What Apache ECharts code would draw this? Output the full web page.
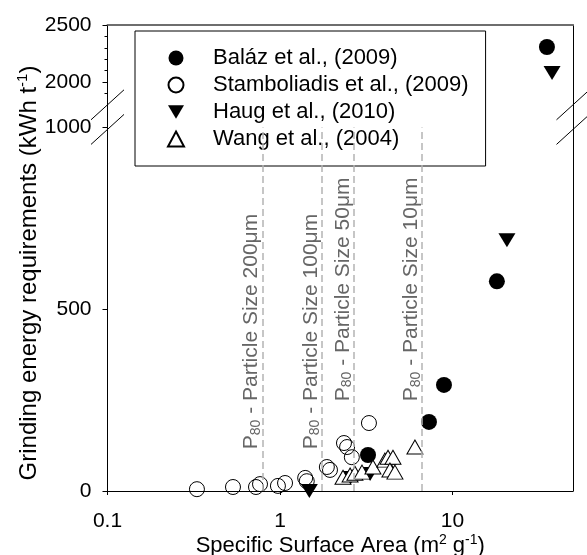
<!DOCTYPE html>
<html><head><meta charset="utf-8">
<script src="https://cdn.jsdelivr.net/npm/echarts@6/dist/echarts.min.js"></script>
<style>html,body{margin:0;padding:0;background:#fff}#c{width:587px;height:555px}</style>
</head><body><div id="c"></div>
<script>
// ---------- data ----------
const xTicks = [0.1, 1, 10];
const yLowTicks = [0, 500, 1000];
const yHighLabels = [2000, 2500];
const yHighMinor = [1900, 2100, 2200, 2300, 2400];

const balazX = [3.24, 7.31, 8.93, 18.1, 35.3];
const balazY = [99, 190, 292, 577, 2307];
const stambX = [0.33, 0.534, 0.726, 0.766, 0.973, 1.07, 1.40, 1.43, 1.87, 1.95, 2.35, 2.45, 2.61, 3.28];
const stambY = [5, 11, 11, 19, 14, 22, 36, 27, 66, 58, 132, 121, 93, 187];
const haugX = [1.48, 2.55, 3.33, 20.7, 37.8];
const haugY = [0, 36, 47, 690, 2079];
const wangX = [2.32, 2.55, 2.72, 2.99, 3.46, 4.06, 4.23, 4.52, 4.34, 4.64, 6.06];
const wangY = [38, 44, 49, 52, 66, 85, 93, 93, 58, 52, 121];
const particleSSA = [0.787, 1.74, 2.67, 6.65];
const particleSize = ['200', '100', '50', '10'];
const seriesNames = ['Baláz et al., (2009)', 'Stamboliadis et al., (2009)', 'Haug et al., (2010)', 'Wang et al., (2004)'];

// ---------- layout ----------
const FONT = '"Liberation Sans", Arial, sans-serif';
const G_LEFT = 107.5, G_RIGHT = 14, G_TOP = 25, G_BREAK = 127.6, G_BOTTOM = 64;
const HIGH_MIN = 1600, HIGH_MAX = 2500, LOW_MAX = 1000;
const labelStartVal = [115, 115, 247, 247];

const chart = echarts.init(document.getElementById('c'));

function pairs(xs, ys, hi) {
  return xs.map((x, i) => [x, ys[i]]).filter(p => hi ? p[1] > LOW_MAX : p[1] <= LOW_MAX);
}
const DOWN = 'path://M0,0L10,0L5,8.5Z';
const defs = [
  {xs: balazX, ys: balazY, symbol: 'circle', size: 16, style: {color: '#000', opacity: 1}},
  {xs: stambX, ys: stambY, symbol: 'circle', size: 15, style: {color: 'rgba(255,255,255,0)', borderColor: '#000', borderWidth: 1, opacity: 1}},
  {xs: haugX, ys: haugY, symbol: DOWN, size: [17, 14], style: {color: '#000', opacity: 1}},
  {xs: wangX, ys: wangY, symbol: 'triangle', size: [16, 14], style: {color: '#fff', borderColor: '#000', borderWidth: 1, opacity: 1}}
];
const series = [];
defs.forEach((d, k) => {
  [true, false].forEach(hi => {
    series.push({
      type: 'scatter', name: seriesNames[k],
      xAxisIndex: hi ? 0 : 1, yAxisIndex: hi ? 0 : 3,
      symbol: d.symbol, symbolSize: d.size, itemStyle: d.style,
      data: pairs(d.xs, d.ys, hi), silent: true
    });
  });
});
// dashed reference lines
series.push({
  type: 'scatter', xAxisIndex: 1, yAxisIndex: 3, data: [], silent: true,
  markLine: {
    silent: true, symbol: ['none', 'none'], label: {show: false},
    lineStyle: {color: '#b4b4b4', type: [7, 4], width: 1.5, opacity: 1},
    data: particleSSA.map(v => ({xAxis: v}))
  }
});
const lowSeriesIndex = 3; // Stamboliadis lower

const tickFmt = v => {
  const l = Math.log10(v);
  if (Math.abs(l - Math.round(l)) > 1e-6) return '';
  return v < 1 ? v.toFixed(1) : String(Math.round(v));
};
const plainFmt = v => String(v);
const axisLabelStyle = {fontSize: 21, fontFamily: FONT, color: '#000'};

chart.setOption({
  animation: false,
  backgroundColor: '#fff',
  grid: [
    {left: G_LEFT, right: G_RIGHT, top: G_TOP, height: G_BREAK - G_TOP, outerBoundsMode: 'none', containLabel: false},
    {left: G_LEFT, right: G_RIGHT, top: G_BREAK, bottom: G_BOTTOM, outerBoundsMode: 'none', containLabel: false}
  ],
  xAxis: [
    {gridIndex: 0, type: 'log', logBase: 10, min: 0.1, max: 50, position: 'top',
     axisLine: {lineStyle: {color: '#6e6e6e', width: 2}}, axisTick: {show: false},
     axisLabel: {show: false}, splitLine: {show: false}},
    {gridIndex: 1, type: 'log', logBase: 10, min: 0.1, max: 50, position: 'bottom',
     axisLine: {lineStyle: {color: '#000', width: 1}},
     axisTick: {show: true, length: 4, lineStyle: {color: '#000'}},
     axisLabel: Object.assign({margin: 20, formatter: tickFmt, showMaxLabel: false}, axisLabelStyle),
     splitLine: {show: false}, minorTick: {show: false}}
  ],
  yAxis: [
    {gridIndex: 0, type: 'value', min: HIGH_MIN, max: HIGH_MAX, position: 'left',
     axisLine: {show: true, lineStyle: {color: '#000'}},
     axisTick: {show: true, length: 5, customValues: yHighLabels, lineStyle: {color: '#000'}},
     axisLabel: Object.assign({margin: 16, customValues: yHighLabels, formatter: plainFmt}, axisLabelStyle),
     splitLine: {show: false}},
    {gridIndex: 0, type: 'value', min: HIGH_MIN, max: HIGH_MAX, position: 'left',
     axisLine: {show: false},
     axisTick: {show: true, length: 3, customValues: yHighMinor, lineStyle: {color: '#000'}},
     axisLabel: {show: false}, splitLine: {show: false}},
    {gridIndex: 0, type: 'value', min: HIGH_MIN, max: HIGH_MAX, position: 'right',
     axisLine: {show: true, lineStyle: {color: '#000'}}, axisTick: {show: false},
     axisLabel: {show: false}, splitLine: {show: false}},
    {gridIndex: 1, type: 'value', min: 0, max: LOW_MAX, interval: 500, position: 'left',
     axisLine: {show: true, lineStyle: {color: '#000'}},
     axisTick: {show: true, length: 5, lineStyle: {color: '#000'}},
     axisLabel: Object.assign({margin: 16, formatter: plainFmt}, axisLabelStyle),
     splitLine: {show: false}},
    {gridIndex: 1, type: 'value', min: 0, max: LOW_MAX, position: 'right',
     axisLine: {show: true, lineStyle: {color: '#000'}}, axisTick: {show: false},
     axisLabel: {show: false}, splitLine: {show: false}}
  ],
  legend: {
    data: seriesNames, orient: 'vertical', left: 135, top: 31,
    padding: [15, 17, 15, 32], itemGap: 3, itemWidth: 16, itemHeight: 15,
    backgroundColor: '#fff', borderColor: '#000', borderWidth: 1, borderRadius: 0,
    selectedMode: false,
    textStyle: {fontSize: 22, lineHeight: 24, fontFamily: FONT, color: '#000', padding: [0, 0, 0, 24]}
  },
  series: series
});

// ---------- decorations (break marks, annotations, axis titles) ----------
const pHigh = v => chart.convertToPixel({seriesIndex: 0}, v);
const pLow = v => chart.convertToPixel({seriesIndex: lowSeriesIndex}, v);
const elements = [];
const slash = (c) => ({
  type: 'line', silent: true, z: 100,
  shape: {x1: c[0] - 16.5, y1: c[1] + 15, x2: c[0] + 16.5, y2: c[1] - 15},
  style: {stroke: '#000', lineWidth: 1}
});
[0.1, 50].forEach(xv => {
  elements.push(slash(pHigh([xv, 1800])));
  elements.push(slash(pLow([xv, 995])));
});
const subRich = {
  p: {fontSize: 21, lineHeight: 22, padding: [0, 0, 3, 0], verticalAlign: 'top', fill: '#666', fontFamily: FONT},
  s: {fontSize: 14, lineHeight: 14, verticalAlign: 'bottom', fill: '#666', fontFamily: FONT}
};
particleSSA.forEach((v, i) => {
  const pt = pLow([v, labelStartVal[i]]);
  elements.push({
    type: 'text', silent: true, z: 50, x: pt[0] + 1, y: pt[1], rotation: Math.PI / 2,
    style: {
      text: '{p|P}{s|80}{p| - Particle Size ' + particleSize[i] + 'μm}',
      rich: subRich, align: 'left', verticalAlign: 'bottom', fontFamily: FONT, fontSize: 21, fill: '#666'
    }
  });
});
const supRich = (size, supSize) => ({
  t: {fontSize: size, lineHeight: size + 2, padding: [2, 0, 0, 0], verticalAlign: 'bottom', fill: '#000', fontFamily: FONT},
  u: {fontSize: supSize, lineHeight: supSize, verticalAlign: 'top', fill: '#000', fontFamily: FONT}
});
// y-axis title
elements.push({
  type: 'text', silent: true, x: 28, y: 273, rotation: Math.PI / 2,
  style: {
    text: '{t|Grinding energy requirements (kWh t}{u|-1}{t|)}',
    rich: supRich(24, 15),
    align: 'center', verticalAlign: 'middle', fontFamily: FONT, fontSize: 24, fill: '#000'
  }
});
// x-axis title
const xMid = (pLow([0.1, 0])[0] + pLow([50, 0])[0]) / 2;
elements.push({
  type: 'text', silent: true, x: xMid, y: 545,
  style: {
    text: '{t|Specific Surface Area (m}{u|2}{t| g}{u|-1}{t|)}',
    rich: supRich(22, 14),
    align: 'center', verticalAlign: 'middle', fontFamily: FONT, fontSize: 22, fill: '#000'
  }
});
chart.setOption({graphic: {elements: elements}});
</script>
</body></html>
